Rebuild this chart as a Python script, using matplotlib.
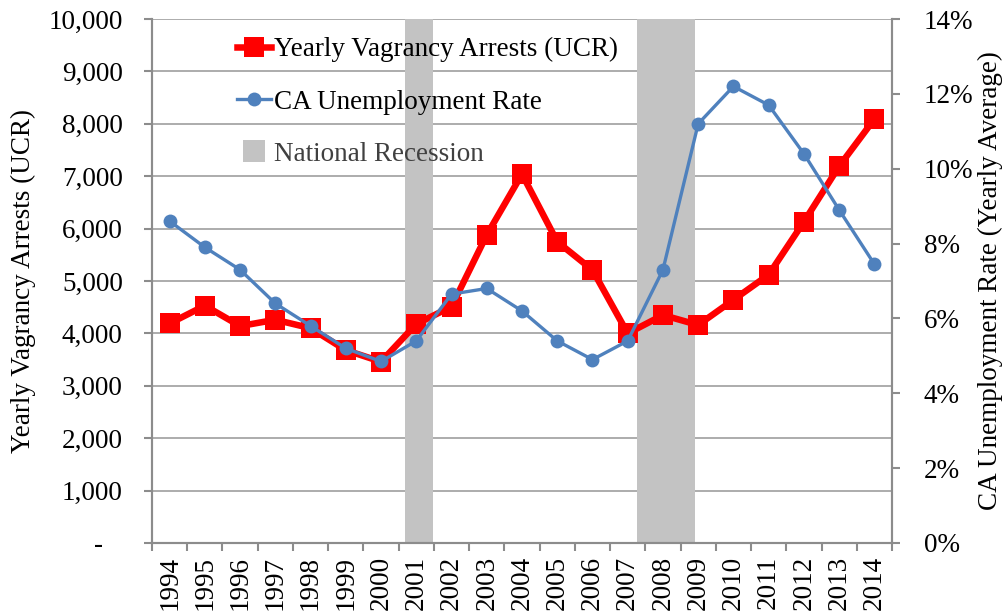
import matplotlib
matplotlib.use("Agg")
import matplotlib.pyplot as plt
from matplotlib.lines import Line2D
from matplotlib.ticker import FuncFormatter

plt.rcParams['font.family'] = ['Liberation Serif', 'DejaVu Serif']

years = list(range(1994, 2015))
arrests = [4190, 4530, 4140, 4260, 4100, 3680, 3460, 4180, 4510, 5880, 7040,
           5750, 5210, 4000, 4350, 4160, 4640, 5120, 6130, 7190, 8090]
unemployment = [8.6, 7.9, 7.3, 6.4, 5.8, 5.2, 4.85, 5.4, 6.65, 6.8, 6.2,
                5.4, 4.9, 5.4, 7.3, 11.2, 12.2, 11.7, 10.4, 8.9, 7.45]
recessions = [(2000.69, 2001.48), (2007.27, 2008.91)]

arrest_ticks = list(range(0, 10001, 1000))
rate_ticks = list(range(0, 15, 2))

grid_col = "#a6a6a6"
axis_col = "#8c8c8c"
red = "#ff0000"
blue = "#4f81bd"
band_col = "#c3c3c3"
fs = 19.5

fig = plt.figure(figsize=(10.04, 6.13), dpi=100)
ax = fig.add_axes([152 / 1004, 1 - 543 / 613, 740 / 1004, 524 / 613])
ax2 = ax.twinx()

# recession bands
for start, end in recessions:
    ax.axvspan(start, end, color=band_col, lw=0, zorder=1)

ax.plot(years, arrests, color=red, lw=4.7, marker='s', markersize=15,
        markeredgewidth=0, zorder=3)
ax2.plot(years, unemployment, color=blue, lw=2.4, marker='o', markersize=10,
         markeredgewidth=0, zorder=3)

ax.set_xlim(1993.5, 2014.5)
ax.set_ylim(0, 10000)
ax2.set_ylim(0, 14)

ax.set_yticks(arrest_ticks)
ax.yaxis.set_major_formatter(FuncFormatter(lambda v, p: "-   " if v == 0 else f"{v:,.0f}"))
ax2.set_yticks(rate_ticks)
ax2.yaxis.set_major_formatter(FuncFormatter(lambda v, p: f"{v:.0f}%"))

ax.set_xticks(years)
ax.set_xticklabels([str(y) for y in years], rotation=90)
ax.set_xticks([y - 0.5 for y in years] + [years[-1] + 0.5], minor=True)
ax.tick_params(axis='x', which='major', length=0, pad=9, labelsize=fs)
ax.tick_params(axis='x', which='minor', length=6, width=1.5, color=axis_col)
ax.tick_params(axis='y', length=6, width=1.5, color=axis_col, pad=15, labelsize=fs)
ax2.tick_params(axis='y', length=6, width=1.5, color=axis_col, pad=17, labelsize=fs)

ax.yaxis.grid(True, color=grid_col, lw=1.3, zorder=0)
ax.set_axisbelow(True)

for a in (ax, ax2):
    a.spines['top'].set_visible(False)
    for s in ('left', 'right', 'bottom'):
        a.spines[s].set_color(axis_col)
        a.spines[s].set_linewidth(1.5)

ax.set_ylabel("Yearly Vagrancy Arrests (UCR)", fontsize=fs)
ax.yaxis.set_label_coords(-0.157, 0.5)
ax2.set_ylabel("CA Unemployment Rate (Yearly Average)", fontsize=fs, rotation=90)
ax2.yaxis.set_label_coords(1.116, 0.5)

handles = [
    Line2D([], [], color=red, lw=4.7, marker='s', markersize=15, markeredgewidth=0),
    Line2D([], [], color=blue, lw=2.4, marker='o', markersize=10, markeredgewidth=0),
    Line2D([], [], color=band_col, lw=0, marker='s', markersize=16, markeredgewidth=0),
]
labels = ["Yearly Vagrancy Arrests (UCR)", "CA Unemployment Rate", "National Recession"]
leg = ax2.legend(handles, labels, loc='upper left', bbox_to_anchor=(0.115, 0.965),
                 frameon=False, fontsize=fs, handlelength=1.25, handletextpad=0.1,
                 labelspacing=1.0, borderpad=0, borderaxespad=0)
leg.get_texts()[2].set_color("#404040")

fig.savefig("out.png", dpi=100)
